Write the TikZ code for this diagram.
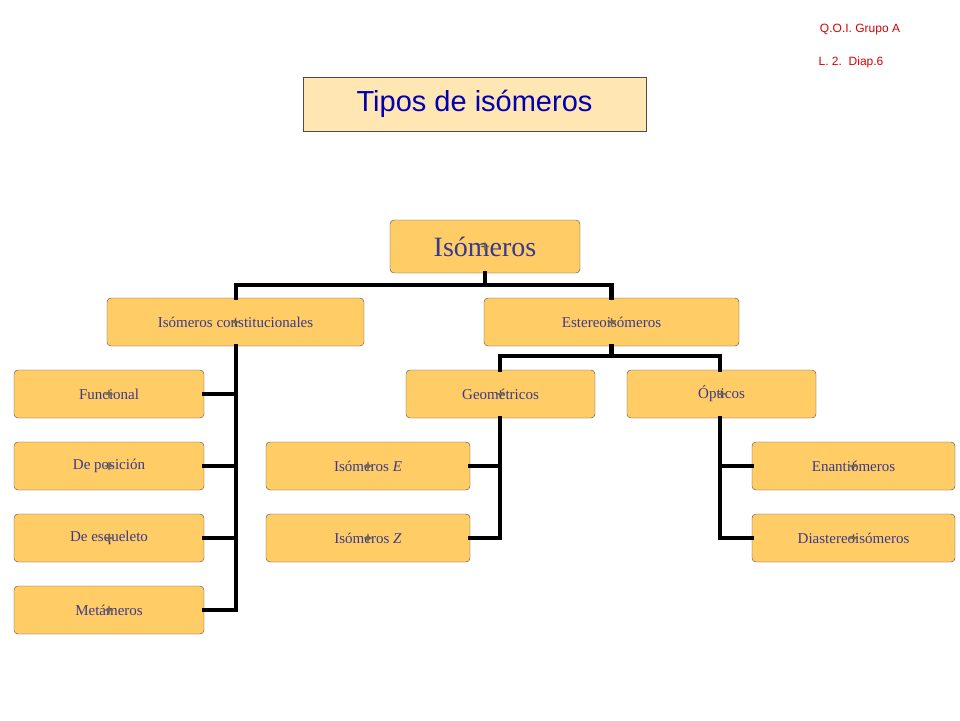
\documentclass[tikz,border=0pt]{standalone}
\usepackage{fontspec}
\setmainfont{Liberation Serif}
\newfontfamily\comic{Liberation Sans}
\begin{document}
\begin{tikzpicture}[x=1pt,y=-1pt,
  bx/.style={draw=black!70,fill=orange!20!yellow!70!orange,rounded corners=4pt,text=blue!40!black!85,font=\fontsize{15}{18}\selectfont,inner sep=0pt},
  ln/.style={line width=4.5pt,line cap=rect}]
\definecolor{bf}{HTML}{FFCC66}
\definecolor{tx}{HTML}{3A3A8C}
\tikzset{bx/.append style={fill=bf,text=tx}}
\useasboundingbox (0,0) rectangle (960,720);
\node[draw=black!70,fill=bf!50,minimum width=343pt,minimum height=54pt,text=blue!70!black,font=\comic\fontsize{29}{32}\selectfont,inner sep=0pt] (t) at (474.5,104) {Tipos de isómeros};
\node[text=red!85!black,font=\comic\fontsize{12}{14}\selectfont] (q) at (860,30) {Q.O.I. Grupo A};
\node[text=red!85!black,font=\comic\fontsize{12}{14}\selectfont] (l) at (851,62) {L. 2.\ \ Diap.6};
\node[bx,minimum width=190pt,minimum height=53pt,font=\fontsize{28}{32}\selectfont] (iso) at (485,246.5) {Isómeros};
\node[bx,minimum width=257pt,minimum height=48pt] (ic) at (235.5,322) {Isómeros constitucionales};
\node[bx,minimum width=255pt,minimum height=48pt] (es) at (611.5,322) {Estereoisómeros};
\foreach \n/\y/\t in {f/394/Funcional,p/466/De posición,e/538/De esqueleto,m/610/Metámeros}
  \node[bx,minimum width=190pt,minimum height=48pt] (\n) at (109,\y) {\t};
\node[bx,minimum width=189pt,minimum height=48pt] (g) at (500.5,394) {Geométricos};
\node[bx,minimum width=189pt,minimum height=48pt] (o) at (721.5,394) {Ópticos};
\node[bx,minimum width=204pt,minimum height=48pt] (ie) at (368,466) {Isómeros \textit{E}};
\node[bx,minimum width=204pt,minimum height=48pt] (iz) at (368,538) {Isómeros \textit{Z}};
\node[bx,minimum width=203pt,minimum height=48pt] (en) at (853.5,466) {Enantiómeros};
\node[bx,minimum width=203pt,minimum height=48pt] (di) at (853.5,538) {Diastereoisómeros};
\begin{scope}[on background layer/.try]
\draw[ln] (iso.south) -- ++(0,12) coordinate (h1);
\draw[ln] (ic.north -| 236,0) |- (h1) -| (es.north);
\draw[ln] (236,346) -- (236,610);
\foreach \n in {f,p,e,m} \draw[ln] (\n.east) -- (\n.east -| 236,0);
\draw[ln] (es.south) -- ++(0,10) coordinate (h2);
\draw[ln] (g.north -| 500,0) |- (h2) -| (o.north -| 720,0);
\draw[ln] (g.south -| 500,0) -- (500,538);
\foreach \n in {ie,iz} \draw[ln] (\n.east) -- (\n.east -| 500,0);
\draw[ln] (o.south -| 720,0) -- (720,538);
\foreach \n in {en,di} \draw[ln] (\n.west) -- (\n.west -| 720,0);
\end{scope}
\foreach \n in {iso,ic,es,f,p,e,m,g,o,ie,iz,en,di} \node[bx] at (\n) {};
\end{tikzpicture}
\end{document}
